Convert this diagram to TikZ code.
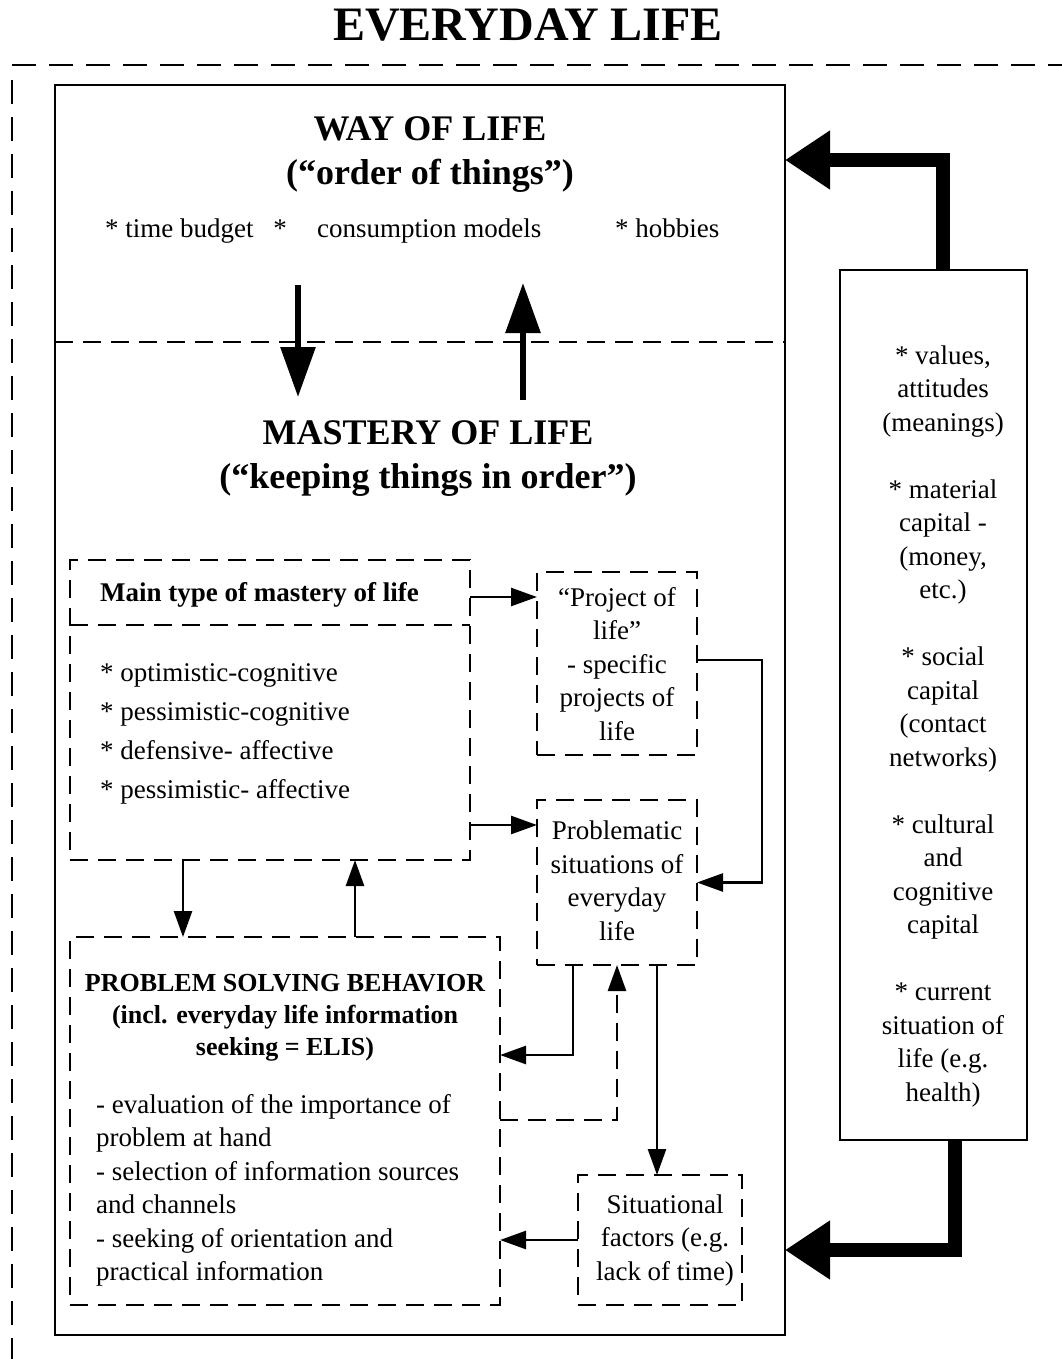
\documentclass[tikz,border=0pt]{standalone}
\usepackage{fontspec}
\setmainfont{Liberation Serif}
\usetikzlibrary{arrows.meta}
\newcommand\bigtitle{\fontsize{48}{58}\selectfont\bfseries}
\newcommand\headfont{\fontsize{36}{44}\selectfont\bfseries}
\newcommand\bodyfont{\fontsize{27}{33.5}\selectfont}
\newcommand\listfont{\fontsize{27}{39.3}\selectfont}
\newcommand\psbfont{\fontsize{26}{32}\selectfont\bfseries}

\begin{document}
\begin{tikzpicture}[x=1pt,y=-1pt,
    box/.style={draw,line width=2.6pt,inner sep=0pt,outer sep=0pt},
    dline/.style={line width=2.6pt,dash pattern=on 18pt off 10pt},
    dbox/.style={box,dline},
    body/.style={font=\bodyfont,inner sep=0pt,align=center},
    arr/.style={line width=2.6pt,-{Triangle[length=26pt,width=18pt]}},
    midarr/.style={line width=6pt,-{Triangle[length=50pt,width=34pt]}},
    bigarr/.style={line width=14pt,-{Triangle[length=45pt,width=56pt]}}]
    \path[use as bounding box] (0,0) rectangle (1062,1359);

    \node[font=\bigtitle,inner sep=0pt] (Everyday) at (528,25) {EVERYDAY LIFE};
    \draw[line width=2.6pt,dash pattern=on 24pt off 13pt] (12,65) -- (1062,65);
    \draw[line width=2.6pt,dash pattern=on 24pt off 13pt] (12,80) -- (12,1359);

    \node[box,minimum width=730pt,minimum height=1250pt] (Life) at (420,710) {};
    \node[box,minimum width=187pt,minimum height=870pt] (Res) at (933.5,705) {};
    \draw[dline] (Life.west |- 0,342) -- (Life.east |- 0,342);

    \node[font=\headfont,align=center,inner sep=0pt] (Way) at (430,155) {WAY OF LIFE\\(“order of things”)};
    \node[body,anchor=base west] (Budget) at (105,237) {* time budget};
    \node[body,anchor=base] (Star) at (280,237) {*};
    \node[body,anchor=base west] (Consum) at (317,237) {consumption models};
    \node[body,anchor=base west] (Hobby) at (615,237) {* hobbies};

    \coordinate (D1) at (298,285);
    \coordinate (D2) at (298,397);
    \coordinate (U1) at (523,400);
    \coordinate (U2) at (523,283);
    \draw[midarr] (D1) -- (D2);
    \draw[midarr] (U1) -- (U2);

    \node[font=\headfont,align=center,inner sep=0pt] (Mastery) at (428,459) {MASTERY OF LIFE\\(“keeping things in order”)};

    \node[dbox,minimum width=400pt,minimum height=300pt] (Main) at (270,710) {};
    \draw[dline] (Main.west |- 0,625) -- (Main.east |- 0,625);
    \node[body,font=\bodyfont\bfseries,anchor=base west] (MainT) at (100,601) {Main type of mastery of life};
    \node[body,font=\listfont,align=left,anchor=north west] (Types) at (100,663) {* optimistic-cognitive\\* pessimistic-cognitive\\* defensive- affective\\* pessimistic- affective};

    \node[dbox,minimum width=160pt,minimum height=183pt] (Proj) at (617,663.5) {};
    \node[body] (ProjT) at (617,664) {“Project of\\life”\\- specific\\projects of\\life};
    \node[dbox,minimum width=160pt,minimum height=165pt] (Prob) at (617,882.5) {};
    \node[body] (ProbT) at (617,881) {Problematic\\situations of\\everyday\\life};

    \node[dbox,minimum width=430pt,minimum height=368pt] (PSB) at (285,1121) {};
    \node[body,font=\psbfont] (PSBT) at (285,1018) {PROBLEM SOLVING BEHAVIOR\\(incl. everyday life information\\seeking = ELIS)};
    \node[body,align=left,anchor=north west] (Steps) at (96,1094) {- evaluation of the importance of\\problem at hand\\- selection of information sources\\and channels\\- seeking of orientation and\\practical information};

    \node[dbox,minimum width=164pt,minimum height=130pt] (Sit) at (660,1240) {};
    \node[body] (SitT) at (665,1240) {Situational\\factors (e.g.\\lack of time)};

    \node[body] (ResT) at (943,726) {* values,\\attitudes\\(meanings)\\[33.5pt]* material\\capital -\\(money,\\etc.)\\[33.5pt]* social\\capital\\(contact\\networks)\\[33.5pt]* cultural\\and\\cognitive\\capital\\[33.5pt]* current\\situation of\\life (e.g.\\health)};

    \draw[arr] (Main.east |- 0,597) -- (Proj.west |- 0,597);
    \draw[arr] (Main.east |- 0,825) -- (Prob.west |- 0,825);
    \draw[arr] (Proj.east |- 0,660) -- ++(65,0) |- (Prob.east);
    \draw[arr] (Main.south -| 183,0) -- (PSB.north -| 183,0);
    \draw[arr] (PSB.north -| 355,0) -- (Main.south -| 355,0);
    \draw[arr] (Prob.south -| 573,0) |- (PSB.east |- 0,1055);
    \draw[arr,dash pattern=on 18pt off 10pt] (PSB.east |- 0,1120) -| (Prob.south);
    \draw[arr] (Prob.south -| 657,0) -- (Sit.north -| 657,0);
    \draw[arr] (Sit.west) -- (PSB.east |- Sit.west);

    \draw[bigarr] (Res.north -| 943,0) |- (Life.east |- 0,160);
    \draw[bigarr] (Res.south -| 955,0) |- (Life.east |- 0,1250);
\end{tikzpicture}
\end{document}
